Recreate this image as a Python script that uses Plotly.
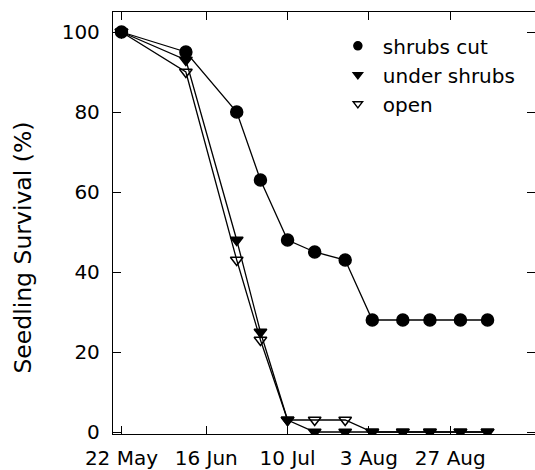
import plotly.graph_objects as go

# sampling dates
dates = ['1990-05-22', '1990-06-10', '1990-06-25', '1990-07-02', '1990-07-10',
         '1990-07-18', '1990-07-27', '1990-08-04', '1990-08-13', '1990-08-21',
         '1990-08-30', '1990-09-07']

shrubs_cut = [100, 95, 80, 63, 48, 45, 43, 28, 28, 28, 28, 28]
under_shrubs = [100, 93, 48, 25, 3, 0, 0, 0, 0, 0, 0, 0]
open_site = [100, 90, 43, 23, 3, 3, 3, 0, 0, 0, 0, 0]

tick_dates = ['1990-05-22', '1990-06-16', '1990-07-10', '1990-08-03', '1990-08-27']
tick_labels = ['22 May', '16 Jun', '10 Jul', '3 Aug', '27 Aug']

font = dict(family='DejaVu Sans, sans-serif', size=20, color='black')
line = dict(color='black', width=1.3)

series = [
    ('open', open_site, 'triangle-down-open', 11),
    ('under shrubs', under_shrubs, 'triangle-down', 11),
    ('shrubs cut', shrubs_cut, 'circle', 12),
]

fig = go.Figure()

# drawn back to front: open, under shrubs, shrubs cut
for name, vals, sym, size in series:
    fig.add_trace(go.Scatter(
        x=dates, y=vals, name=name, mode='lines+markers', line=line,
        showlegend=False,
        marker=dict(symbol=sym, size=size, color='black',
                    line=dict(color='black', width=1.5))
    ))

# legend entries show only the symbol
for name, vals, sym, size in series:
    fig.add_trace(go.Scatter(
        x=[None], y=[None], name=name, mode='markers',
        marker=dict(symbol=sym, size=8, color='black',
                    line=dict(color='black', width=1.5))
    ))

fig.update_layout(
    width=535, height=470,
    margin=dict(l=113, r=0, t=12, b=36),
    paper_bgcolor='white', plot_bgcolor='white',
    font=font,
    legend=dict(x=0.521, y=0.966, xanchor='left', yanchor='top',
                traceorder='reversed', bgcolor='rgba(0,0,0,0)',
                font=font, tracegroupgap=0, itemwidth=40),
)

fig.update_xaxes(
    type='date', automargin=False,
    range=['1990-05-19 12:00', '1990-09-21'],
    tickvals=tick_dates, ticktext=tick_labels, ticklabelstandoff=6,
    ticks='inside', ticklen=8, tickwidth=1.3, tickcolor='black',
    showline=True, linecolor='black', linewidth=1.3, mirror='ticks',
    showgrid=False, zeroline=False,
)
fig.update_yaxes(
    range=[-0.5, 105], automargin=False,
    tickvals=[0, 20, 40, 60, 80, 100], ticklabelstandoff=8,
    ticks='inside', ticklen=8, tickwidth=1.3, tickcolor='black',
    showline=True, linecolor='black', linewidth=1.3, mirror='ticks',
    showgrid=False, zeroline=False,
)

# y title placed by hand (sits a bit below the plot centre in the original)
fig.add_annotation(
    text='Seedling Survival (%)', textangle=-90, showarrow=False,
    xref='paper', yref='paper', x=-0.214, y=0.441,
    xanchor='center', yanchor='middle',
    font=dict(family='DejaVu Sans, sans-serif', size=23.5, color='black'),
)

fig.write_html("out.html", config={'displayModeBar': False},
               post_script="document.body.style.margin='0';")
